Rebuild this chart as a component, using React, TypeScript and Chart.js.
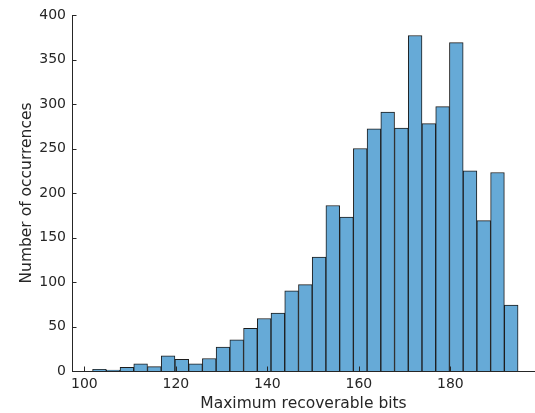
import React, { useEffect, useRef } from "react";
import { Chart, registerables } from "chart.js";

Chart.register(...registerables);

const binStart = 101.8;
const binWidth = 3;
const counts = [2, 1, 4, 8, 5, 17, 13, 8, 14, 27, 35, 48, 59, 65, 90, 97, 128, 186, 173, 250, 272, 291, 273, 377, 278, 297, 369, 225, 169, 223, 74];
const xTicks = [100, 120, 140, 160, 180];
const yTicks = [0, 50, 100, 150, 200, 250, 300, 350, 400];
const xTitle = "Maximum recoverable bits";
const yTitle = "Number of occurrences";

const axisColor = "#262626";
const font = "'DejaVu Sans', sans-serif";

const innerTicks = {
  id: "innerTicks",
  afterDraw(chart: any) {
    const { ctx, chartArea, scales } = chart;
    ctx.save();
    ctx.strokeStyle = axisColor;
    ctx.lineWidth = 1;
    const len = 4.5;
    xTicks.forEach((v) => {
      const px = Math.round(scales.x.getPixelForValue(v)) + 0.5;
      ctx.beginPath();
      ctx.moveTo(px, chartArea.bottom);
      ctx.lineTo(px, chartArea.bottom - len);
      ctx.stroke();
    });
    yTicks.forEach((v) => {
      const py = Math.round(scales.y.getPixelForValue(v)) + 0.5;
      ctx.beginPath();
      ctx.moveTo(chartArea.left, py);
      ctx.lineTo(chartArea.left + len, py);
      ctx.stroke();
    });
    ctx.restore();
  },
};

export default function App() {
  const ref = useRef<HTMLCanvasElement>(null);
  useEffect(() => {
    if (!ref.current) return;
    const data = counts.map((c, i) => ({ x: binStart + binWidth * (i + 0.5), y: c }));
    const chart = new Chart(ref.current, {
      type: "bar",
      data: {
        datasets: [
          {
            data: data as any,
            backgroundColor: "#66AAD7",
            borderColor: "#1c1c1c",
            borderWidth: 1,
            barPercentage: 1,
            categoryPercentage: 1,
            grouped: false,
          } as any,
        ],
      },
      options: {
        animation: false,
        responsive: false,
        maintainAspectRatio: false,
        layout: { padding: { top: 15, right: 0, left: 0, bottom: 0 } },
        plugins: { legend: { display: false }, tooltip: { enabled: false } },
        scales: {
          x: {
            type: "linear",
            min: 97.3,
            max: 198.5,
            offset: false,
            afterBuildTicks: (s: any) => {
              s.ticks = xTicks.map((v) => ({ value: v }));
            },
            afterFit: (s: any) => {
              s.height = 42;
            },
            grid: { display: false, drawTicks: false, offset: false },
            border: { display: true, color: axisColor, width: 1 },
            ticks: {
              color: axisColor,
              font: { family: font, size: 14 },
              padding: 5,
              maxRotation: 0,
              autoSkip: false,
            },
            title: {
              display: true,
              text: xTitle,
              color: axisColor,
              font: { family: font, size: 15.5 },
              padding: { top: 0, bottom: 0 },
            },
          },
          y: {
            min: 0,
            max: 400,
            afterBuildTicks: (s: any) => {
              s.ticks = yTicks.map((v) => ({ value: v }));
            },
            afterFit: (s: any) => {
              s.width = 72;
            },
            grid: { display: false, drawTicks: false },
            border: { display: true, color: axisColor, width: 1 },
            ticks: {
              color: axisColor,
              font: { family: font, size: 14 },
              padding: 6,
            },
            title: {
              display: true,
              text: yTitle,
              color: axisColor,
              font: { family: font, size: 15.5 },
              padding: { top: 18, bottom: 4 },
            },
          },
        },
      },
      plugins: [innerTicks],
    });
    return () => chart.destroy();
  }, []);
  return (
    <div style={{ position: "absolute", left: 0, top: 0, width: 535, height: 413, background: "#fff" }}>
      <canvas ref={ref} width={535} height={413} style={{ width: 535, height: 413 }} />
    </div>
  );
}
